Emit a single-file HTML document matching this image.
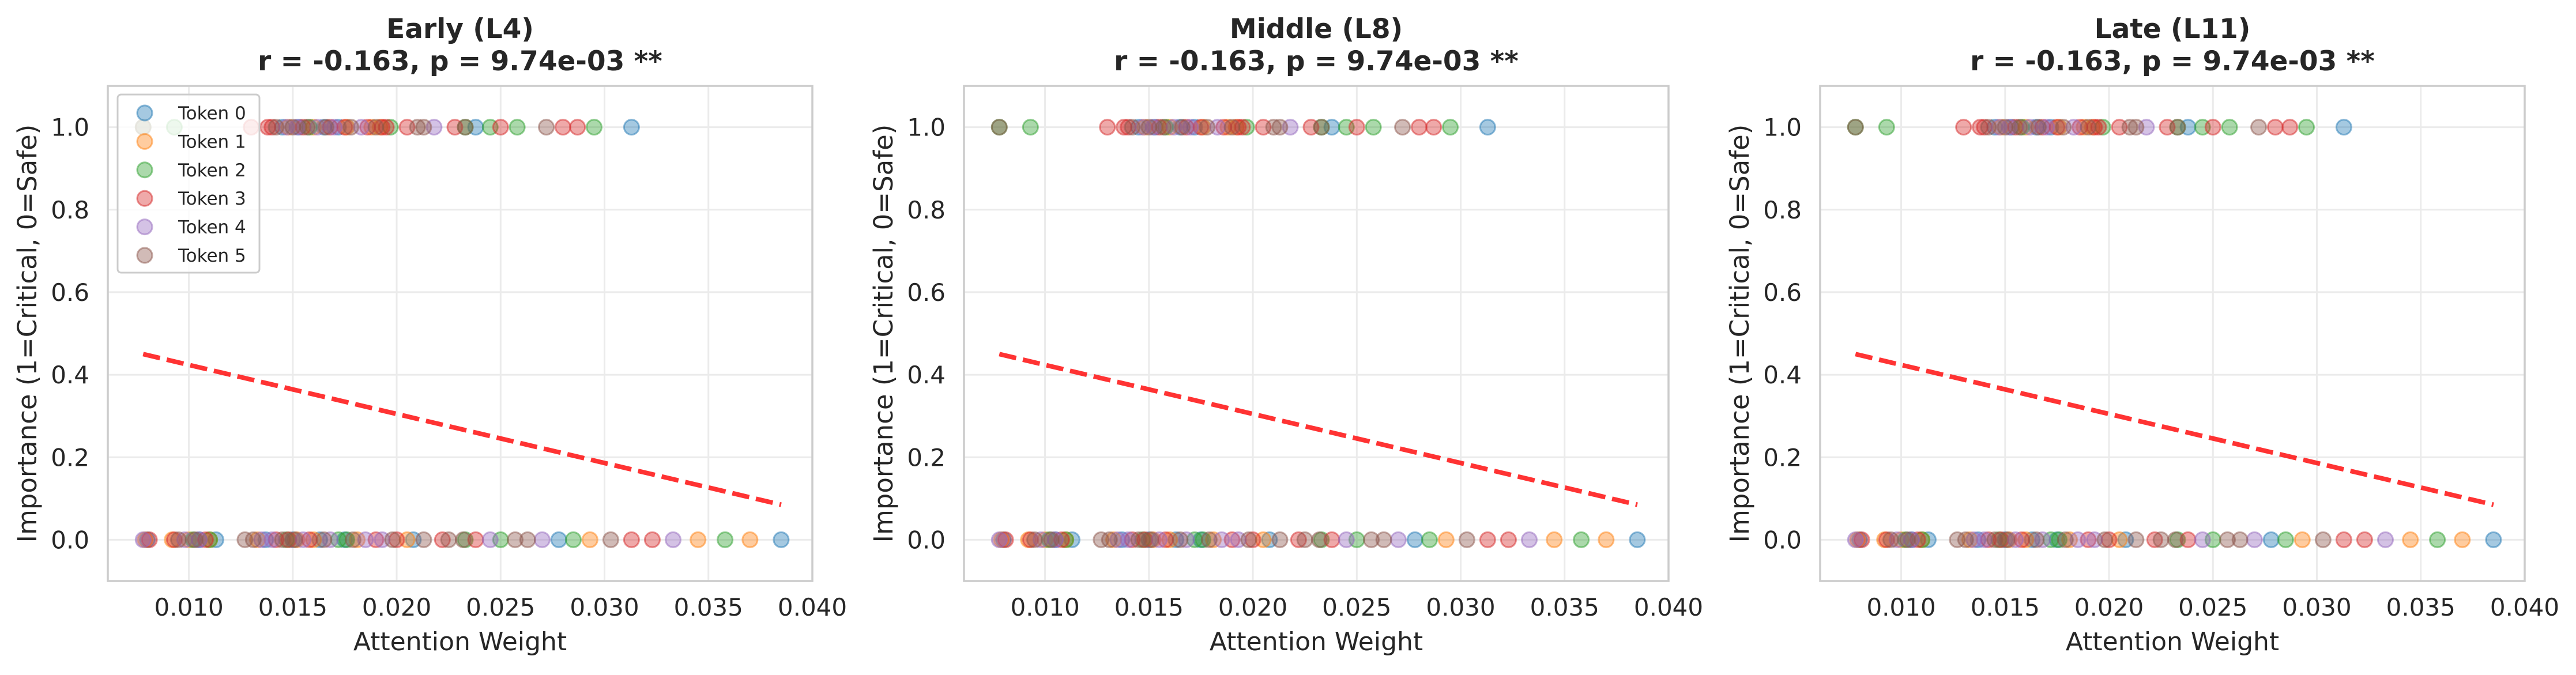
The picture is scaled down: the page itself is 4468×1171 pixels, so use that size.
<!DOCTYPE html>
<html><head><meta charset="utf-8">
<style>
html,body{margin:0;padding:0;background:#fff;}
svg{display:block;font-family:"DejaVu Sans","Liberation Sans",sans-serif;}
</style></head>
<body>
<svg id="chart" width="4468" height="1171" viewBox="0 0 4468 1171" xmlns="http://www.w3.org/2000/svg"></svg>
<script>
const panelTitles = ["Early (L4)", "Middle (L8)", "Late (L11)"];
const statLine = "r = -0.163, p = 9.74e-03 **";
const tokenNames = ["Token 0","Token 1","Token 2","Token 3","Token 4","Token 5"];
const xTicks = [0.010,0.015,0.020,0.025,0.030,0.035,0.040];
const xTickLabels = ["0.010","0.015","0.020","0.025","0.030","0.035","0.040"];
const yTicks = [0.0,0.2,0.4,0.6,0.8,1.0];
const yTickLabels = ["0.0","0.2","0.4","0.6","0.8","1.0"];
const criticalX = [
  [0.0145,0.0153,0.0165,0.0172,0.0238,0.0313],
  [0.0148,0.0160,0.0176,0.0188,0.0192],
  [0.0078,0.0093,0.0158,0.0197,0.0233,0.0245,0.0258,0.0295],
  [0.0130,0.0138,0.0140,0.0155,0.0168,0.0175,0.0186,0.0193,0.0195,0.0205,0.0228,0.0250,0.0280,0.0287],
  [0.0147,0.0152,0.0162,0.0170,0.0183,0.0218],
  [0.0078,0.0142,0.0150,0.0157,0.0166,0.0178,0.0190,0.0210,0.0213,0.0233,0.0272]
];
const safeX = [
  [0.0080,0.0105,0.0113,0.0137,0.0150,0.0163,0.0175,0.0208,0.0278,0.0385],
  [0.0079,0.0092,0.0100,0.0110,0.0133,0.0152,0.0160,0.0181,0.0205,0.0293,0.0345,0.0370],
  [0.0102,0.0110,0.0147,0.0172,0.0176,0.0233,0.0250,0.0285,0.0358],
  [0.0081,0.0093,0.0108,0.0142,0.0148,0.0158,0.0190,0.0200,0.0222,0.0238,0.0313,0.0323],
  [0.0078,0.0098,0.0105,0.0135,0.0140,0.0155,0.0168,0.0185,0.0193,0.0245,0.0270,0.0333],
  [0.0095,0.0103,0.0127,0.0131,0.0145,0.0151,0.0165,0.0179,0.0198,0.0213,0.0225,0.0232,0.0257,0.0263,0.0303]
];
const fitX = [0.0078, 0.0385];
const fitY = [0.450, 0.085];

const colors = ["#1f77b4","#ff7f0e","#2ca02c","#d62728","#9467bd","#8c564b"];
const NS = "http://www.w3.org/2000/svg";
const svg = document.getElementById("chart");
function mk(tag, attrs, parent){const e=document.createElementNS(NS,tag);for(const k in attrs)e.setAttribute(k,attrs[k]);(parent||svg).appendChild(e);return e;}

const AX_W = 1222, TOP = 149, BOT = 1008;
const XMIN = 0.0061, XMAX = 0.040, YMIN = -0.1, YMAX = 1.1;
const offsets = [187, 1672, 3157];

offsets.forEach((L, p) => {
  const xs = v => L + (v - XMIN) / (XMAX - XMIN) * AX_W;
  const ys = v => BOT - (v - YMIN) / (YMAX - YMIN) * (BOT - TOP);
  const g = mk("g", {});
  
  
  xTicks.forEach((t,i) => {
    const l = mk("line",{x1:xs(t),x2:xs(t),y1:TOP,y2:BOT,stroke:"#ebebeb","stroke-width":3},g);
    
    
    const tx = mk("text",{x:xs(t),y:1068,"text-anchor":"middle","font-size":42,fill:"#262626"},g);
    tx.textContent = xTickLabels[i];
    
    
  });
  yTicks.forEach((t,i) => {
    const l = mk("line",{x1:L,x2:L+AX_W,y1:ys(t),y2:ys(t),stroke:"#ebebeb","stroke-width":3},g);
    
    
    const tx = mk("text",{x:L-32,y:ys(t)+15,"text-anchor":"end","font-size":42,fill:"#262626"},g);
    tx.textContent = yTickLabels[i];
    
    
  });
  for (let k=0;k<6;k++){
    criticalX[k].forEach(v => {
      const c = mk("circle",{cx:xs(v),cy:ys(1),r:13,fill:colors[k],"fill-opacity":0.4,stroke:colors[k],"stroke-opacity":0.5,"stroke-width":3},g);
      
      
    });
    safeX[k].forEach(v => {
      const c = mk("circle",{cx:xs(v),cy:ys(0),r:13,fill:colors[k],"fill-opacity":0.4,stroke:colors[k],"stroke-opacity":0.5,"stroke-width":3},g);
      
      
    });
  }
  const fl = mk("line",{x1:xs(fitX[0]),y1:ys(fitY[0]),x2:xs(fitX[1]),y2:ys(fitY[1]),stroke:"#ff0000","stroke-opacity":0.8,"stroke-width":8,"stroke-dasharray":"30 12"},g);
  
  
  const sp = mk("rect",{x:L,y:TOP,width:AX_W,height:BOT-TOP,fill:"none",stroke:"#cccccc","stroke-width":3.5},g);
  
  
  const cx = L + AX_W/2;
  const t1 = mk("text",{x:cx,y:66,"text-anchor":"middle","font-size":47,"font-weight":"bold",fill:"#262626"},g);
  t1.textContent = panelTitles[p];
  
  
  const t2 = mk("text",{x:cx,y:122,"text-anchor":"middle","font-size":47,"font-weight":"bold",fill:"#262626"},g);
  t2.textContent = statLine;
  
  
  const xl = mk("text",{x:cx,y:1128,"text-anchor":"middle","font-size":44,fill:"#262626"},g);
  xl.textContent = "Attention Weight";
  
  
  const yl = mk("text",{x:0,y:0,"text-anchor":"middle","font-size":45,fill:"#262626",transform:`translate(${L-124},${(TOP+BOT)/2}) rotate(-90)`},g);
  yl.textContent = "Importance (1=Critical, 0=Safe)";
  
  
  if (p === 0) {
    const lg = mk("g",{},g);
    
    
    mk("rect",{x:204,y:164,width:246,height:309,rx:6,fill:"#ffffff","fill-opacity":0.8,stroke:"#cccccc","stroke-width":3},lg);
    tokenNames.forEach((n,k) => {
      const y = 196 + k*49.4;
      const e = mk("g",{},lg);
      
      
      mk("circle",{cx:251,cy:y,r:13,fill:colors[k],"fill-opacity":0.4,stroke:colors[k],"stroke-opacity":0.5,"stroke-width":3},e);
      const tx = mk("text",{x:309,y:y+11,"font-size":31,fill:"#262626"},e);
      tx.textContent = n;
    });
  }
});
</script>
</body></html>
